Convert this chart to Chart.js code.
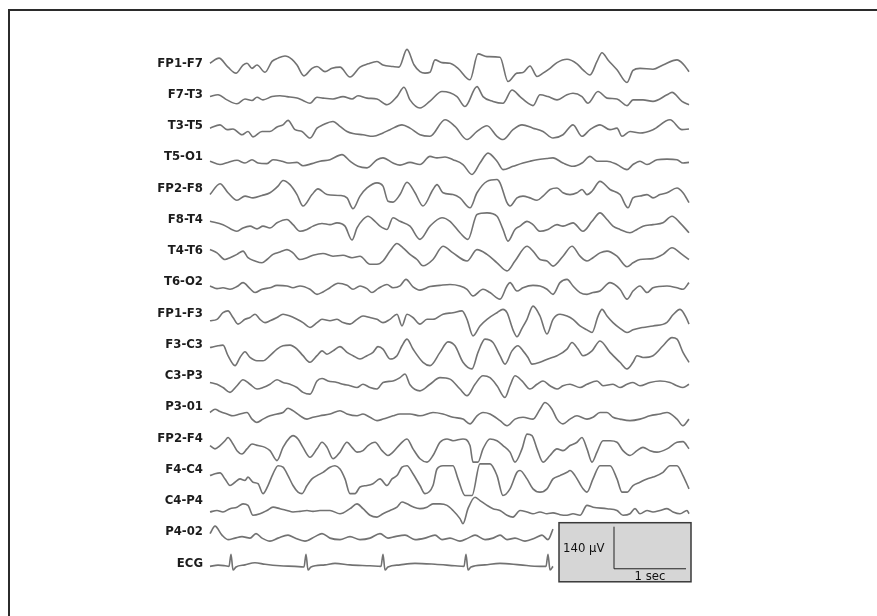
<!DOCTYPE html>
<html>
<head>
<meta charset="utf-8">
<script src="https://cdn.jsdelivr.net/npm/chart.js@4.4.1/dist/chart.umd.min.js"></script>
<style>
  html, body { margin: 0; background: #fff; overflow: hidden; }
  #frame { position: absolute; left: 8px; top: 9px; width: 900px; height: 640px;
           border-top: 2px solid #2b2b2b; border-left: 2px solid #2b2b2b; }
  #eeg { position: absolute; left: 0; top: 0; }
</style>
</head>
<body>
<div id="frame"></div>
<canvas id="eeg" width="877" height="616"></canvas>
<script>
// montage, top to bottom
const channels = ['FP1-F7', 'F7-T3', 'T3-T5', 'T5-O1', 'FP2-F8', 'F8-T4', 'T4-T6', 'T6-O2',
                  'FP1-F3', 'F3-C3', 'C3-P3', 'P3-01', 'FP2-F4', 'F4-C4', 'C4-P4', 'P4-02', 'ECG'];

// [sample, µV] pairs, 72 samples per second
const fp1f7 = [[0,0],[9,17],[18,-13],[26,-33],[33,-6],[37,0],[42,-17],[47,-6],[55,-30],[62,6],[68,17],[75,24],[82,13],[87,-6],[94,-42],[102,-17],[107,-11],[115,-28],[122,-17],[130,-13],[140,-46],[150,-13],[158,-2],[167,6],[173,-6],[183,-11],[189,-13],[197,46],[204,-5],[210,-28],[215,-33],[220,-30],[225,11],[232,2],[240,0],[248,-17],[260,-55],[268,31],[277,22],[290,20],[298,-61],[307,-33],[313,-31],[320,-9],[327,-44],[333,-33],[340,-17],[347,2],[357,13],[367,-2],[373,-22],[380,-39],[387,6],[392,35],[398,11],[407,-22],[417,-64],[423,-24],[430,-17],[443,-20],[453,-6],[467,11],[473,-2],[479,-28]];
const f7t3 = [[0,-7],[8,-1],[17,-18],[27,-31],[35,-15],[42,-20],[47,-9],[53,-18],[62,-7],[70,-4],[77,-7],[87,-12],[93,-20],[100,-29],[107,-9],[113,-12],[123,-15],[133,-7],[142,-15],[148,-4],[157,-12],[167,-15],[177,-34],[187,-7],[194,24],[200,-18],[210,-45],[220,-22],[232,10],[247,-7],[255,-40],[267,26],[273,-7],[283,-23],[293,-29],[302,15],[310,-7],[318,-29],[323,-37],[330,-1],[338,-7],[347,-18],[357,-1],[363,4],[372,-7],[378,-29],[388,10],[397,-12],[407,-15],[417,-37],[423,-18],[433,-18],[443,-23],[457,-1],[462,7],[472,-23],[479,-34]];
const t3t5 = [[0,-8],[10,3],[17,-13],[23,-11],[32,-30],[38,-19],[43,-37],[52,-19],[60,-19],[67,-4],[73,3],[78,18],[85,-13],[92,-19],[100,-41],[107,-8],[113,3],[123,14],[130,-2],[137,-19],[143,-26],[153,-30],[163,-35],[173,-24],[180,-13],[192,3],[200,-8],[210,-30],[220,-35],[235,20],[245,-2],[257,-46],[267,-19],[277,0],[287,-35],[293,-46],[303,-13],[312,3],[323,-8],[333,-19],[343,-41],[353,-30],[363,3],[372,-35],[380,-13],[390,3],[400,-13],[407,-8],[412,-35],[420,-19],[430,-24],[443,-13],[460,20],[472,-13],[479,-11]];
const t5o1 = [[0,-14],[10,-25],[18,-18],[27,-11],[35,-20],[42,-9],[48,-20],[57,-22],[63,-9],[72,-14],[78,-20],[87,-18],[93,-29],[102,-22],[110,-14],[120,-9],[132,8],[140,-14],[148,-31],[157,-36],[167,-9],[173,-3],[183,-20],[190,-27],[200,-18],[210,-25],[220,2],[227,-3],[235,0],[243,-9],[253,-25],[262,-58],[270,-20],[278,13],[287,-14],[293,-42],[303,-31],[313,-20],[320,-14],[327,-9],[337,-5],[343,-3],[353,-20],[363,-31],[372,-20],[380,2],[387,-14],[397,-14],[407,-25],[417,-42],[423,-25],[430,-14],[437,-25],[447,-9],[457,-7],[467,-9],[473,-20],[479,-18]];
const fp2f8 = [[0,-21],[10,15],[18,-15],[27,-40],[35,-26],[43,-32],[52,-24],[60,-15],[68,7],[73,26],[80,12],[87,-21],[93,-59],[102,-21],[108,-2],[117,-21],[130,-24],[137,-32],[143,-68],[150,-26],[157,1],[167,18],[173,7],[178,-43],[183,-46],[190,-21],[197,20],[205,-15],[213,-59],[223,-4],[227,12],[233,-15],[243,-21],[250,-32],[260,-65],[267,-15],[277,23],[287,29],[290,18],[297,-48],[300,-59],[307,-32],[313,-26],[320,-32],[327,-40],[333,-26],[340,-4],[347,1],[353,-15],[360,-21],[367,-15],[372,-4],[377,-21],[382,-10],[390,23],[400,-4],[410,-21],[418,-65],[423,-32],[430,-26],[437,-21],[443,-32],[450,-21],[457,-15],[467,1],[473,-15],[479,-48]];
const f8t4 = [[0,-6],[13,-17],[27,-39],[33,-28],[40,-22],[47,-31],[53,-22],[60,-28],[67,-11],[77,0],[83,-17],[90,-39],[97,-33],[103,-22],[112,-13],[120,-17],[127,-11],[135,-22],[142,-68],[147,-28],[153,0],[158,11],[165,-6],[170,-22],[177,-33],[183,6],[190,-6],[200,-22],[210,-66],[220,-22],[232,6],[240,-6],[250,-44],[258,-66],[267,17],[277,22],[287,11],[293,-33],[298,-72],[305,-33],[310,-22],[317,-6],[323,-17],[330,-39],[338,-33],[347,-17],[353,-22],[363,-11],[373,-39],[382,-6],[390,22],[397,0],[403,-22],[410,-33],[420,-44],[427,-33],[433,-22],[443,-17],[453,-11],[462,11],[470,-11],[479,-44]];
const t4t6 = [[0,4],[7,-7],[15,-29],[20,-23],[27,-12],[33,-1],[38,-23],[45,-34],[52,-40],[57,-29],[63,-12],[70,-4],[77,4],[83,-7],[90,-29],[97,-23],[103,-15],[113,-9],[123,-18],[133,-15],[142,-23],[150,-18],[160,-45],[167,-45],[173,-34],[180,-1],[187,24],[193,10],[200,-12],[207,-29],[213,-50],[223,-29],[233,15],[243,-7],[257,-34],[267,4],[277,-12],[287,-40],[297,-67],[305,-34],[317,15],[323,-1],[330,-29],[337,-34],[343,-51],[353,-18],[362,15],[370,-18],[377,-34],[383,-23],[390,-7],[397,-1],[407,-18],[417,-53],[423,-40],[430,-29],[443,-26],[453,-12],[462,10],[472,-12],[479,-29]];
const t6o2 = [[0,-13],[7,-22],[13,-19],[20,-24],[27,-15],[33,-2],[40,-22],[45,-35],[52,-24],[60,-19],[67,-11],[77,-13],[83,-19],[90,-13],[100,-24],[107,-41],[113,-33],[120,-19],[128,-4],[137,-11],[143,-24],[150,-13],[157,-22],[162,-35],[168,-22],[177,-8],[183,-19],[190,-13],[196,9],[203,-16],[210,-27],[220,-15],[230,-11],[240,-8],[250,-13],[257,-24],[263,-46],[273,-24],[280,-35],[290,-57],[297,-13],[300,-2],[307,-30],[313,-19],[323,-11],[330,-13],[337,-24],[343,-41],[350,-2],[357,9],[363,-13],[370,-35],[377,-41],[383,-35],[390,-30],[400,-2],[410,-24],[417,-57],[423,-30],[430,-13],[437,-35],[443,-19],[457,-13],[467,-19],[473,-24],[479,-2]];
const fp1f3 = [[0,-25],[7,-20],[13,2],[18,8],[23,-14],[28,-36],[35,-20],[40,-14],[45,-3],[50,-20],[55,-31],[60,-25],[67,-14],[73,-3],[80,-9],[87,-20],[93,-31],[100,-47],[107,-31],[112,-20],[120,-25],[127,-20],[133,-31],[140,-36],[147,-20],[153,-9],[160,-14],[167,-20],[173,-31],[180,-20],[187,-3],[192,-42],[197,-3],[203,-14],[210,-36],[217,-20],[223,-20],[233,-3],[243,2],[252,8],[257,-20],[263,-75],[270,-42],[277,-20],[287,2],[293,13],[297,2],[303,-55],[307,-78],[312,-50],[317,-20],[323,24],[330,-9],[337,-69],[343,-20],[350,-3],[357,-9],[363,-20],[370,-42],[377,-55],[382,-64],[388,-10],[392,13],[397,-9],[403,-31],[410,-50],[417,-64],[423,-55],[433,-47],[443,-42],[457,-30],[463,-5],[470,13],[477,-20],[479,-36]];
const f3c3 = [[0,-10],[8,-4],[13,-2],[18,-37],[25,-70],[30,-43],[35,-24],[40,-43],[47,-54],[53,-54],[60,-37],[67,-15],[73,-4],[80,-2],[87,-15],[93,-37],[100,-59],[107,-37],[112,-21],[117,-32],[123,-21],[130,-7],[137,-26],[143,-37],[150,-48],[157,-37],[163,-26],[168,-7],[173,-15],[180,-48],[187,-37],[192,-4],[197,18],[203,-15],[213,-59],[220,-70],[230,-26],[238,9],[245,-4],[253,-59],[262,-81],[268,-26],[275,18],[283,7],[290,-37],[295,-65],[302,-21],[308,-4],[313,-21],[318,-43],[322,-65],[330,-59],[338,-48],[347,-37],[357,-15],[362,7],[368,-15],[373,-37],[382,-21],[390,12],[400,-26],[410,-59],[417,-81],[423,-59],[427,-37],[433,-43],[443,-37],[453,-4],[462,23],[467,18],[473,-26],[479,-59]];
const c3p3 = [[0,-22],[7,-28],[13,-39],[20,-55],[27,-33],[33,-13],[40,-28],[47,-44],[53,-39],[60,-28],[67,-13],[73,-22],[80,-28],[87,-39],[93,-55],[100,-61],[107,-17],[112,-9],[118,-17],[127,-22],[133,-28],[140,-33],[147,-39],[153,-28],[160,-39],[167,-44],[173,-22],[183,-17],[190,-6],[195,6],[200,-30],[210,-50],[220,-28],[230,-6],[240,-11],[250,-44],[257,-66],[265,-28],[273,0],[280,-6],[287,-33],[295,-72],[300,-33],[305,0],[312,-17],[320,-44],[327,-28],[333,-17],[340,-33],[347,-44],[353,-33],[360,-28],[370,-39],[377,-28],[387,-17],[393,-33],[403,-28],[410,-39],[417,-28],[423,-22],[430,-33],[440,-22],[450,-17],[460,-22],[467,-33],[473,-39],[479,-28]];
const p3o1 = [[0,-18],[5,-7],[10,-15],[17,-23],[23,-29],[30,-23],[37,-18],[42,-40],[47,-51],[53,-40],[60,-29],[67,-23],[73,-18],[78,-4],[83,-12],[90,-29],[97,-40],[103,-34],[110,-29],[120,-23],[130,-12],[137,-23],[147,-29],[153,-23],[160,-34],[167,-45],[173,-40],[183,-29],[190,-23],[200,-23],[210,-29],[223,-18],[233,-23],[243,-34],[253,-40],[260,-56],[267,-29],[273,-18],[280,-23],[290,-45],[297,-62],[305,-40],[313,-34],[323,-40],[330,-7],[335,15],[342,-7],[347,-40],[353,-56],[360,-40],[367,-29],[377,-40],[383,-34],[390,-18],[397,-18],[403,-34],[410,-40],[420,-45],[430,-40],[440,-29],[450,-23],[457,-18],[467,-40],[473,-62],[479,-40]];
const fp2f4 = [[0,-24],[5,-35],[10,-24],[15,-8],[18,3],[23,-19],[27,-41],[32,-52],[37,-35],[42,-19],[48,-24],[55,-30],[60,-41],[67,-74],[73,-30],[80,3],[83,9],[88,-2],[93,-30],[100,-63],[107,-35],[112,-13],[117,-30],[123,-68],[130,-46],[137,-13],[142,-30],[147,-46],[153,-41],[158,-24],[165,-13],[172,-41],[178,-57],[183,-46],[190,-20],[197,-2],[203,-35],[210,-68],[217,-79],[223,-57],[230,-13],[237,-2],[243,-8],[253,-2],[260,-24],[263,-79],[268,-79],[273,-35],[280,-2],[287,-8],[293,-24],[300,-46],[305,-79],[312,-35],[317,14],[322,9],[327,-35],[333,-79],[340,-57],[347,-35],[353,-41],[360,-24],[367,-13],[372,3],[377,-35],[382,-79],[387,-46],[393,-8],[400,-8],[407,-13],[413,-41],[420,-57],[427,-41],[433,-30],[440,-41],[447,-46],[457,-35],[467,-13],[473,-11],[479,-35]];
const f4c4 = [[0,-20],[5,-14],[10,-11],[15,-31],[20,-53],[25,-42],[30,-31],[35,-36],[38,-25],[43,-42],[48,-47],[53,-80],[58,-53],[63,-14],[68,13],[73,8],[78,-20],[83,-53],[88,-75],[92,-80],[97,-53],[102,-31],[107,-20],[113,-9],[120,8],[125,13],[130,2],[135,-31],[140,-80],[145,-80],[150,-58],[157,-53],[163,-47],[170,-31],[177,-53],[182,-31],[187,-20],[192,8],[197,13],[203,-14],[210,-53],[215,-80],[223,-53],[227,2],[233,13],[243,13],[248,-31],[255,-86],[262,-86],[270,19],[280,19],[287,-20],[293,-86],[300,-64],[307,-9],[310,-3],[317,-31],[323,-64],[330,-75],[337,-64],[343,-31],[350,-20],[357,-9],[360,-3],[365,-20],[373,-64],[377,-75],[383,-31],[390,13],[400,13],[407,-31],[412,-75],[417,-75],[423,-53],[430,-42],[437,-31],[443,-25],[453,-9],[460,13],[467,13],[473,-20],[479,-64]];
const c4p4 = [[0,-37],[7,-32],[13,-37],[20,-26],[27,-21],[33,-10],[38,-15],[43,-48],[50,-43],[57,-32],[63,-21],[70,-26],[77,-32],[83,-37],[90,-35],[97,-32],[103,-35],[110,-32],[120,-32],[130,-43],[140,-26],[147,-10],[153,-26],[160,-48],[167,-54],[173,-43],[180,-32],[187,-21],[192,-4],[197,-10],[203,-20],[210,-26],[217,-21],[223,-10],[230,-10],[237,-15],[243,-32],[250,-59],[253,-76],[258,-26],[265,12],[270,1],[277,-15],[283,-26],[290,-32],[297,-48],[303,-54],[310,-32],[317,-37],[323,-43],[330,-37],[337,-43],[343,-40],[350,-46],[357,-48],[363,-43],[370,-48],[377,-15],[383,-21],[397,-26],[407,-32],[413,-48],[420,-43],[425,-26],[430,-43],[437,-32],[443,-37],[450,-32],[457,-26],[463,-37],[470,-43],[477,-32],[479,-43]];
const p4o2 = [[0,-5],[5,20],[12,-10],[18,-25],[25,-20],[32,-15],[40,-20],[46,-5],[52,-20],[60,-30],[68,-20],[78,-10],[85,-20],[95,-30],[105,-15],[112,-5],[120,-20],[130,-25],[140,-15],[150,-25],[160,-20],[170,-5],[178,-20],[185,-15],[195,-10],[205,-25],[215,-20],[225,-10],[232,-25],[240,-20],[250,-30],[258,-20],[265,-10],[275,-25],[283,-20],[290,-10],[297,-25],[305,-20],[315,-30],[325,-20],[332,-10],[338,-25],[343,10]];
const ecg = [[0,-10],[8,-6],[15,-8],[19,-10],[21,30],[23,-22],[26,-12],[35,-5],[45,2],[55,-3],[70,-8],[85,-10],[94,-12],[96,30],[98,-22],[101,-12],[115,-5],[125,0],[140,-5],[160,-8],[171,-10],[173,30],[175,-22],[178,-12],[190,-5],[205,0],[225,-3],[245,-8],[254,-10],[256,30],[258,-22],[261,-12],[275,-5],[290,0],[310,-5],[330,-10],[336,-10],[338,30],[340,-22],[343,-10]];

const traces = [fp1f7, f7t3, t3t5, t5o1, fp2f8, f8t4, t4t6, t6o2,
                fp1f3, f3c3, c3p3, p3o1, fp2f4, f4c4, c4p4, p4o2, ecg];

const samplesPerSec = 72;
const sweepSamples = 480;
const rowRange = 52;          // µV above and below each channel baseline
const calUv = 140;
const calSec = 1;

const labelFont = { family: "'DejaVu Sans Condensed', 'DejaVu Sans', sans-serif", size: 13, weight: 'bold' };

const scales = {
  x: { type: 'linear', min: 0, max: sweepSamples, display: false }
};
channels.forEach((name, k) => {
  scales['y' + k] = {
    type: 'linear',
    position: 'left',
    stack: 'eeg',
    stackWeight: 1,
    weight: channels.length - k,
    min: -rowRange,
    max: rowRange,
    grid: { display: false, drawTicks: false },
    border: { display: false },
    afterBuildTicks: s => { s.ticks = [{ value: 0 }]; },
    afterFit: s => { s.width = 210; },
    ticks: { padding: 7, color: '#1c1c1c', font: labelFont, callback: () => name }
  };
});

// calibration box in the lower right corner
const calibration = {
  id: 'calibration',
  afterDraw(chart) {
    const ctx = chart.ctx;
    const x = chart.scales.x;
    const y = chart.scales['y' + (channels.length - 1)];
    const left = x.getPixelForValue(349), right = x.getPixelForValue(481);
    const barX = x.getPixelForValue(404);
    const barEnd = x.getPixelForValue(404 + calSec * samplesPerSec);
    const barBottom = y.getPixelForValue(-18);
    const barTop = y.getPixelForValue(-18 + calUv);
    const top = barTop - 4, bottom = barBottom + 13;
    ctx.save();
    ctx.fillStyle = '#d6d6d6';
    ctx.fillRect(left, top, right - left, bottom - top);
    ctx.strokeStyle = '#3a3a3a';
    ctx.lineWidth = 1.5;
    ctx.strokeRect(left, top, right - left, bottom - top);
    ctx.strokeStyle = '#222';
    ctx.lineWidth = 1;
    ctx.beginPath();
    ctx.moveTo(barX, barTop);
    ctx.lineTo(barX, barBottom);
    ctx.lineTo(barEnd, barBottom);
    ctx.stroke();
    ctx.fillStyle = '#111';
    ctx.font = "13px 'DejaVu Sans Condensed', 'DejaVu Sans', sans-serif";
    ctx.textBaseline = 'middle';
    ctx.textAlign = 'left';
    ctx.fillText(calUv + ' µV', left + 4, (barTop + barBottom) / 2 + 1);
    ctx.textAlign = 'center';
    ctx.textBaseline = 'top';
    ctx.fillText(calSec + ' sec', (barX + barEnd) / 2, barBottom + 1);
    ctx.restore();
  }
};

new Chart(document.getElementById('eeg'), {
  type: 'line',
  data: {
    datasets: traces.map((tr, k) => ({
      label: channels[k],
      data: tr.map(([s, v]) => ({ x: s, y: v })),
      yAxisID: 'y' + k,
      borderColor: '#727272',
      borderWidth: 1.6,
      pointRadius: 0,
      cubicInterpolationMode: 'monotone',
      clip: false
    }))
  },
  options: {
    responsive: false,
    animation: false,
    devicePixelRatio: 1,
    layout: { padding: { left: 0, top: 47.6, right: 187, bottom: 37 } },
    scales,
    plugins: { legend: { display: false }, tooltip: { enabled: false } }
  },
  plugins: [calibration]
});
</script>
</body>
</html>
